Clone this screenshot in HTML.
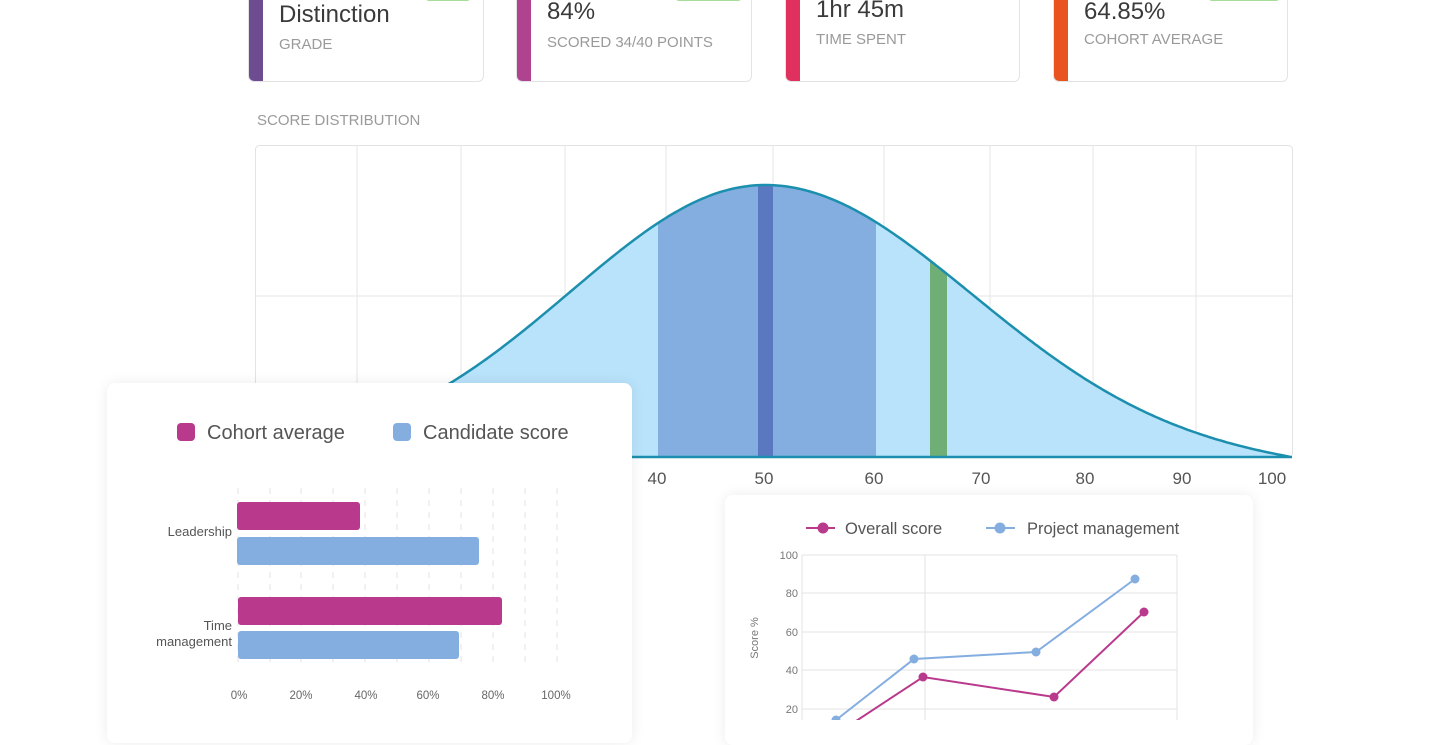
<!DOCTYPE html>
<html><head><meta charset="utf-8"><style>
*{margin:0;padding:0;box-sizing:border-box}
body{width:1440px;height:720px;overflow:hidden;background:#fff;font-family:"Liberation Sans",sans-serif;position:relative}
.card{position:absolute;top:-20px;height:102px;background:#fff;border:1px solid #e3e3e3;border-radius:6px;overflow:hidden}
.card .bar{position:absolute;left:0;top:0;bottom:0;width:14px}
.card .big{position:absolute;left:30px;font-size:24px;color:#3a3a3a}
.card .sm{position:absolute;left:30px;font-size:15px;color:#9a9a9a}
.badge{position:absolute;top:-20px;height:21px;background:#fff;border:1px solid #a8dc9a;border-radius:4px}
.abs{position:absolute}
</style></head><body>
<div class="card" style="left:248px;width:236px"><div class="bar" style="background:#6e4c92"></div><div class="big" style="top:20px">Distinction</div><div class="sm" style="top:55px">GRADE</div></div>
<div class="card" style="left:516px;width:236px"><div class="bar" style="background:#b0438f"></div><div class="big" style="top:17px">84%</div><div class="sm" style="top:53px">SCORED 34/40 POINTS</div></div>
<div class="card" style="left:785px;width:235px"><div class="bar" style="background:#e0305e"></div><div class="big" style="top:15px">1hr 45m</div><div class="sm" style="top:50px">TIME SPENT</div></div>
<div class="card" style="left:1053px;width:235px"><div class="bar" style="background:#e9531f"></div><div class="big" style="top:17px">64.85%</div><div class="sm" style="top:50px">COHORT AVERAGE</div></div>
<div class="badge" style="left:425px;width:46px"></div>
<div class="badge" style="left:675px;width:67px"></div>
<div class="badge" style="left:1208px;width:72px"></div>
<div class="abs" style="left:257px;top:112px;font-size:15px;color:#9a9a9a">SCORE DISTRIBUTION</div>

<svg class="abs" style="left:0;top:0" width="1440" height="720">
<rect x="255.5" y="145.5" width="1037" height="312" fill="#fff" stroke="#e3e3e3" rx="4"/>
<g stroke="#e6e6e6" stroke-width="1">
<line x1="357" y1="145" x2="357" y2="457"/><line x1="461" y1="145" x2="461" y2="457"/><line x1="565" y1="145" x2="565" y2="457"/><line x1="666" y1="145" x2="666" y2="457"/><line x1="773" y1="145" x2="773" y2="457"/><line x1="884" y1="145" x2="884" y2="457"/><line x1="990" y1="145" x2="990" y2="457"/><line x1="1093" y1="145" x2="1093" y2="457"/><line x1="1196" y1="145" x2="1196" y2="457"/>
<line x1="255" y1="296" x2="1292" y2="296"/>
</g>
<defs><clipPath id="cc"><path id="cp"/></clipPath></defs>
<path id="fill" fill="#b9e3fb"/>
<g clip-path="url(#cc)">
<rect x="658" y="140" width="218" height="320" fill="#85aee0"/>
<rect x="758" y="140" width="15" height="320" fill="#5a78bf"/>
<rect x="930" y="140" width="17" height="320" fill="#6fae75"/>
</g>
<path id="line" fill="none" stroke="#1b8fad" stroke-width="2.5"/>
<line x1="255" y1="457" x2="1292" y2="457" stroke="#1b8fad" stroke-width="2.5"/>
<g font-size="17" fill="#555" text-anchor="middle">
<text x="657" y="484">40</text><text x="764" y="484">50</text><text x="874" y="484">60</text><text x="981" y="484">70</text><text x="1085" y="484">80</text><text x="1182" y="484">90</text><text x="1272" y="484">100</text>
</g>
</svg>
<script>
var d="M255 457",l="";
for(var x=255;x<=1291;x+=3){var s=x<765?195:205;var h=272*Math.exp(-Math.pow(x-765,2)/(2*s*s));if(x>765)h-=10*Math.pow((x-765)/525,3);if(h<0)h=0;var y=457-h;d+=" L"+x+" "+y.toFixed(1);l+=(l?" L":"M")+x+" "+y.toFixed(1);}
d+=" L1292 457 Z";
document.getElementById("fill").setAttribute("d",d);document.getElementById("cp").setAttribute("d",d);document.getElementById("line").setAttribute("d",l);
</script>

<div class="abs" style="left:107px;top:383px;width:525px;height:360px;background:#fff;border-radius:8px;box-shadow:0 0 14px rgba(0,0,0,0.08)"></div>
<svg class="abs" style="left:0;top:0" width="1440" height="720">
<rect x="177" y="423" width="18" height="18" rx="4" fill="#b9398c"/>
<text x="207" y="439" font-size="20" fill="#555">Cohort average</text>
<rect x="393" y="423" width="18" height="18" rx="4" fill="#85aee0"/>
<text x="423" y="439" font-size="20" fill="#555">Candidate score</text>
<g stroke="#e3e3e3" stroke-dasharray="6,6">
<line x1="238" y1="488" x2="238" y2="665"/><line x1="270" y1="488" x2="270" y2="665"/><line x1="301" y1="488" x2="301" y2="665"/><line x1="333" y1="488" x2="333" y2="665"/><line x1="365" y1="488" x2="365" y2="665"/><line x1="397" y1="488" x2="397" y2="665"/><line x1="429" y1="488" x2="429" y2="665"/><line x1="461" y1="488" x2="461" y2="665"/><line x1="493" y1="488" x2="493" y2="665"/><line x1="525" y1="488" x2="525" y2="665"/><line x1="557" y1="488" x2="557" y2="665"/>
</g>
<rect x="237" y="502" width="123" height="28" rx="3" fill="#b9398c"/>
<rect x="237" y="537" width="242" height="28" rx="3" fill="#85aee0"/>
<rect x="238" y="597" width="264" height="28" rx="3" fill="#b9398c"/>
<rect x="238" y="631" width="221" height="28" rx="3" fill="#85aee0"/>
<g font-size="13" fill="#555" text-anchor="end">
<text x="232" y="536">Leadership</text><text x="232" y="630">Time</text><text x="232" y="646">management</text>
</g>
<g font-size="11.5" fill="#666" text-anchor="middle">
<text x="239" y="699">0%</text><text x="301" y="699">20%</text><text x="366" y="699">40%</text><text x="428" y="699">60%</text><text x="493" y="699">80%</text><text x="556" y="699">100%</text>
</g>
</svg>

<div class="abs" style="left:725px;top:495px;width:528px;height:250px;background:#fff;border-radius:8px;box-shadow:0 0 14px rgba(0,0,0,0.08)"></div>
<svg class="abs" style="left:0;top:0" width="1440" height="720">
<line x1="806" y1="528" x2="835" y2="528" stroke="#b9398c" stroke-width="2"/><circle cx="823" cy="528" r="5.5" fill="#b9398c"/>
<text x="845" y="534" font-size="16.5" fill="#555">Overall score</text>
<line x1="986" y1="528" x2="1015" y2="528" stroke="#85aee0" stroke-width="2"/><circle cx="1000" cy="528" r="5.5" fill="#85aee0"/>
<text x="1027" y="534" font-size="16.5" fill="#555">Project management</text>
<g stroke="#e3e3e3">
<line x1="802" y1="555" x2="1177" y2="555"/><line x1="802" y1="593" x2="1177" y2="593"/><line x1="802" y1="632" x2="1177" y2="632"/><line x1="802" y1="670" x2="1177" y2="670"/><line x1="802" y1="709" x2="1177" y2="709"/>
<line x1="802" y1="555" x2="802" y2="720"/><line x1="925" y1="555" x2="925" y2="720"/><line x1="1177" y1="555" x2="1177" y2="720"/>
</g>
<g font-size="11" fill="#777" text-anchor="end">
<text x="798" y="559">100</text><text x="798" y="597">80</text><text x="798" y="636">60</text><text x="798" y="674">40</text><text x="798" y="713">20</text>
</g>
<text transform="translate(758,638) rotate(-90)" font-size="11" fill="#777" text-anchor="middle">Score %</text>
<polyline points="836,720 914,659 1036,652 1135,579" fill="none" stroke="#85aee0" stroke-width="2"/>
<g fill="#85aee0"><circle cx="836" cy="720" r="4.5"/><circle cx="914" cy="659" r="4.5"/><circle cx="1036" cy="652" r="4.5"/><circle cx="1135" cy="579" r="4.5"/></g>
<polyline points="850,725 923,677 1054,697 1144,612" fill="none" stroke="#b9398c" stroke-width="2"/>
<g fill="#b9398c"><circle cx="923" cy="677" r="4.5"/><circle cx="1054" cy="697" r="4.5"/><circle cx="1144" cy="612" r="4.5"/></g>
</svg>
</body></html>
